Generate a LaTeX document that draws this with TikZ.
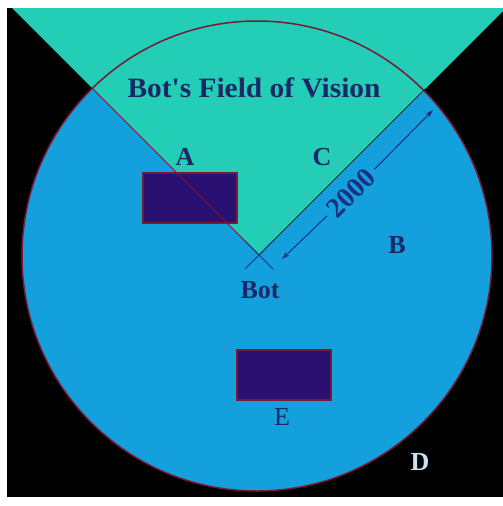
\documentclass[tikz,border=0pt]{standalone}
\usepackage{fontspec}
\setmainfont{Liberation Serif}
\usetikzlibrary{arrows.meta,calc}
\definecolor{fieldBlue}{HTML}{14A0DC}
\definecolor{visionTeal}{HTML}{24CDB6}
\definecolor{wallInk}{HTML}{2A1070}
\definecolor{rimRed}{HTML}{7A1838}
\definecolor{labelInk}{HTML}{1A2868}
\definecolor{dimInk}{HTML}{1A3080}
\definecolor{paleInk}{HTML}{C8E2F2}

\begin{document}
\begin{tikzpicture}[x=1pt, y=-1pt,
    lab/.style={font=\fontsize{26}{26}\selectfont\bfseries, text=labelInk, inner sep=0pt},
    wall/.style={draw=rimRed, line width=1.2pt, fill=wallInk, inner sep=0pt},
    dim/.style={draw=dimInk, line width=1pt, -{Stealth[length=8pt,width=5pt]}}]
    \useasboundingbox (0,0) rectangle (503,506);
    \fill[white] (0,0) rectangle (503,506);
    \fill[black] (7,8) rectangle (503,497);
    % range of the bot and its field of vision
    \coordinate (ctr) at (257,256);
    \coordinate (bot) at (259,255);
    \fill[fieldBlue] (ctr) circle (235);
    \begin{scope}
      \clip (7,8) rectangle (503,497);
      \fill[visionTeal] (bot) -- ++(-270,-270) -- ++(540,0) -- cycle;
    \end{scope}
    \draw[rimRed, line width=1.5pt] (ctr) circle (235);
    % obstacles
    \node[wall, minimum width=94pt, minimum height=50pt] (wallA) at (190,198) {};
    \node[wall, minimum width=94pt, minimum height=50pt] (wallE) at (284,375) {};
    % edges of the cone, crossing at the bot
    \coordinate (edgeL) at ($(bot)+(-166,-166)$);
    \coordinate (edgeR) at ($(bot)+(166,-166)$);
    \draw[rimRed, line width=1pt] (bot) -- (edgeL);
    \draw[rimRed!70!black, line width=1pt] (bot) -- (edgeR);
    \foreach \dx in {-1,1}
      \draw[dimInk, line width=1pt] ($(bot)+(-14*\dx,-14)$) -- ($(bot)+(14*\dx,14)$);
    % view distance
    \coordinate (dimLo) at (282,259);
    \coordinate (dimHi) at (433,110);
    \node[lab, rotate=45, text=dimInk, font=\fontsize{28}{28}\selectfont\bfseries, inner sep=5pt] (dimTxt) at (351,193) {2000};
    \draw[dim] (dimTxt) -- (dimLo);
    \draw[dim] (dimTxt) -- (dimHi);
    % labels
    \node[lab, font=\fontsize{28}{28}\selectfont\bfseries] (title) at (254,88)
      {\scalebox{1.05}[1]{Bot\textquotesingle s Field of Vision}};
    \node[lab] (labA) at (185,157) {A};
    \node[lab] (labC) at (322,157) {C};
    \node[lab] (labB) at (397,245) {B};
    \node[lab] (labBot) at (260,290) {Bot};
    \node[lab, font=\fontsize{26}{26}\selectfont] (labE) at (282,417) {E};
    \node[lab, text=paleInk] (labD) at (420,462) {D};
  \end{tikzpicture}
\end{document}
